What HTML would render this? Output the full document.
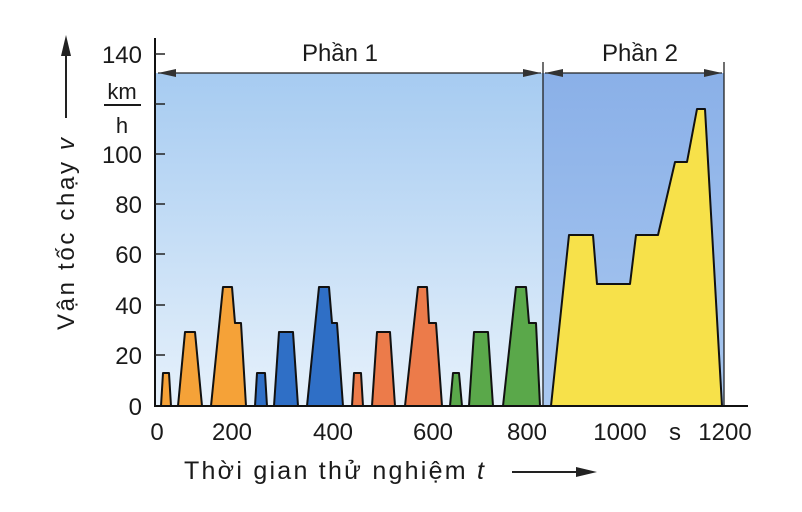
<!DOCTYPE html>
<html><head><meta charset="utf-8"><style>
html,body{margin:0;padding:0;background:#fff;}
svg{display:block;font-family:"Liberation Sans",sans-serif;}
</style></head><body>
<svg width="802" height="512" viewBox="0 0 802 512" xmlns="http://www.w3.org/2000/svg">
<defs>
<linearGradient id="g1" x1="0" y1="0" x2="0" y2="1">
<stop offset="0" stop-color="#a6cbf1"/><stop offset="1" stop-color="#e6f1fb"/>
</linearGradient>
<linearGradient id="g2" x1="0" y1="0" x2="0" y2="1">
<stop offset="0" stop-color="#8ab0e8"/><stop offset="1" stop-color="#a9c8f0"/>
</linearGradient>
</defs>
<rect x="156" y="73" width="387" height="333" fill="url(#g1)"/>
<rect x="543" y="73" width="181" height="333" fill="url(#g2)"/>
<g stroke="#111" stroke-width="2" stroke-linejoin="round">
<polygon fill="#f5a238" points="161,406 163,373 169,373 171,406"/>
<polygon fill="#f5a238" points="178,406 185,332 195,332 202,406"/>
<polygon fill="#f5a238" points="211,406 223,287 232,287 235,323 241,323 246,406"/>
<polygon fill="#2f6fc6" points="255,406 257,373 265,373 267,406"/>
<polygon fill="#2f6fc6" points="274,406 279,332 293,332 298,406"/>
<polygon fill="#2f6fc6" points="307,406 319,287 329,287 332,323 337,323 343,406"/>
<polygon fill="#ec7b4a" points="352,406 354,373 361,373 363,406"/>
<polygon fill="#ec7b4a" points="372,406 377,332 390,332 395,406"/>
<polygon fill="#ec7b4a" points="405,406 418,287 427,287 429,323 436,323 442,406"/>
<polygon fill="#5aa84a" points="450,406 453,373 459,373 462,406"/>
<polygon fill="#5aa84a" points="469,406 474,332 488,332 493,406"/>
<polygon fill="#5aa84a" points="503,406 516,287 526,287 529,323 536,323 540,406"/>
<polygon fill="#f7e14a" points="551,406 569,235 593,235 597,284 630,284 636,235 658,235 675,162 687,162 697,109 705,109 722,406"/>
</g>
<g stroke="#222" stroke-width="1.3">
<line x1="543" y1="62" x2="543" y2="406"/>
<line x1="724" y1="62" x2="724" y2="406"/>
<line x1="158" y1="73" x2="541" y2="73"/>
<line x1="545" y1="73" x2="722" y2="73"/>
</g>
<g fill="#333">
<polygon points="158,73 176,69 176,77"/>
<polygon points="541,73 523,69 523,77"/>
<polygon points="545,73 563,69 563,77"/>
<polygon points="722,73 704,69 704,77"/>
</g>
<g stroke="#111" stroke-width="2">
<line x1="155" y1="38" x2="155" y2="406"/>
<line x1="154" y1="406" x2="748" y2="406"/>
</g>
<g stroke="#222" stroke-width="1.5">
<line x1="155" y1="54" x2="165" y2="54"/>
<line x1="155" y1="104" x2="165" y2="104"/>
<line x1="155" y1="154" x2="165" y2="154"/>
<line x1="155" y1="204" x2="165" y2="204"/>
<line x1="155" y1="254" x2="165" y2="254"/>
<line x1="155" y1="305" x2="165" y2="305"/>
<line x1="155" y1="355" x2="165" y2="355"/>
</g>
<g font-size="24" fill="#1a1a1a" text-anchor="end">
<text x="142" y="63">140</text>
<text x="142" y="163">100</text>
<text x="142" y="213">80</text>
<text x="142" y="263">60</text>
<text x="142" y="314">40</text>
<text x="142" y="364">20</text>
<text x="142" y="415">0</text>
</g>
<g font-size="22" fill="#1a1a1a" text-anchor="middle">
<text x="122" y="99">km</text>
<text x="122" y="133">h</text>
</g>
<line x1="104" y1="105" x2="141" y2="105" stroke="#1a1a1a" stroke-width="2"/>
<g font-size="24" fill="#1a1a1a" text-anchor="middle">
<text x="157" y="440">0</text>
<text x="232" y="440">200</text>
<text x="333" y="440">400</text>
<text x="433" y="440">600</text>
<text x="527" y="440">800</text>
<text x="620" y="440">1000</text>
<text x="675" y="440">s</text>
<text x="725" y="440">1200</text>
</g>
<g font-size="24" fill="#1a1a1a" text-anchor="middle">
<text x="340" y="61">Phần 1</text>
<text x="640" y="61">Phần 2</text>
</g>
<text x="184" y="479" font-size="25" fill="#1a1a1a" textLength="300">Thời gian thử nghiệm <tspan font-style="italic">t</tspan></text>
<line x1="512" y1="472" x2="582" y2="472" stroke="#222" stroke-width="2"/>
<polygon points="597,472 576,467 576,477" fill="#222"/>
<text transform="translate(74,234) rotate(-90)" font-size="24" fill="#1a1a1a" text-anchor="middle" textLength="192">Vận tốc chạy <tspan font-style="italic">v</tspan></text>
<line x1="66" y1="118" x2="66" y2="52" stroke="#222" stroke-width="2"/>
<polygon points="66,35 61,56 71,56" fill="#222"/>
</svg>
</body></html>
